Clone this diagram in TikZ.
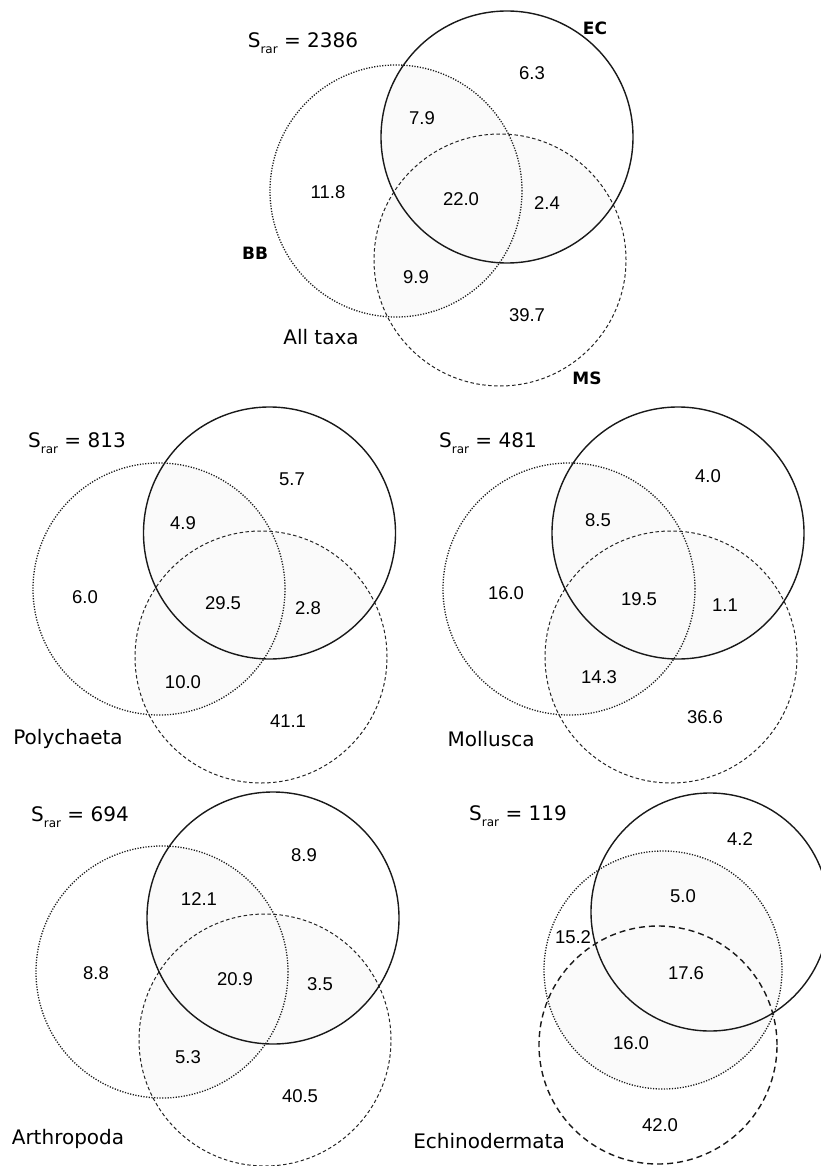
\documentclass[tikz,border=0pt]{standalone}
\usepackage{fontspec}
\setmainfont{DejaVu Sans}
\newfontfamily\numfamily{Liberation Sans}
\newfontfamily\lblfamily{DejaVu Sans}
\newcommand\srar[1]{S\raisebox{-0.28em}{\fontsize{12}{12}\selectfont rar} = #1}
\tikzset{
  ecline/.style={draw=black!90, line width=1.4pt},
  bbline/.style={draw=black!90, line width=1.3pt, dash pattern=on 1.2pt off 1.5pt},
  msline/.style={draw=black!85, line width=1pt, dash pattern=on 3.5pt off 2.5pt},
  msthick/.style={draw=black!90, line width=1.4pt, dash pattern=on 6pt off 4pt},
  shadefill/.style={fill=black!2},
  num/.style={font=\numfamily\fontsize{18.5}{20}\selectfont, inner sep=0pt},
  ttl/.style={font=\lblfamily\fontsize{20}{22}\selectfont, inner sep=0pt},
  setlbl/.style={font=\lblfamily\bfseries\fontsize{17}{19}\selectfont, inner sep=0pt},
}
% #1 prefix, #2 #3 EC, #4 #5 BB, #6 #7 MS, #8 radius, #9 MS style
\newcommand\vennset[9]{%
  \coordinate (#1ec) at (#2,#3);
  \coordinate (#1bb) at (#4,#5);
  \coordinate (#1ms) at (#6,#7);
  \begin{scope}
    \clip (#1ec) circle[radius=#8pt];
    \fill[shadefill] (#1bb) circle[radius=#8pt];
    \fill[shadefill] (#1ms) circle[radius=#8pt];
  \end{scope}
  \begin{scope}
    \clip (#1bb) circle[radius=#8pt];
    \fill[shadefill] (#1ms) circle[radius=#8pt];
  \end{scope}
  \draw[bbline] (#1bb) circle[radius=#8pt];
  \draw[#9] (#1ms) circle[radius=#8pt];
  \draw[ecline] (#1ec) circle[radius=#8pt];
}
\begin{document}
\begin{tikzpicture}[x=1pt,y=-1pt]
\useasboundingbox (0,0) rectangle (821,1166);
\clip (0,0) rectangle (821,1166);

% All taxa
\vennset{a}{507}{137}{396}{191}{500}{260}{126}{msline}
\node[ttl] (asr) at (303,43) {\srar{2386}};
\node[setlbl] (aEC) at (595,28) {EC};
\node[setlbl] (aBB) at (255,253) {BB};
\node[setlbl] (aMS) at (587,378) {MS};
\node[num] (a1) at (532,73) {6.3};
\node[num] (a2) at (422,118) {7.9};
\node[num] (a3) at (328,192) {11.8};
\node[num] (a4) at (461,199) {22.0};
\node[num] (a5) at (547,203) {2.4};
\node[num] (a6) at (416,277) {9.9};
\node[num] (a7) at (527,315) {39.7};
\node[ttl] (at) at (321,337) {All taxa};

% Polychaeta
\vennset{p}{269.5}{533}{159}{589}{261}{657}{126}{msline}
\node[ttl] (psr) at (77,443) {\srar{813}};
\node[num] (p1) at (292,479) {5.7};
\node[num] (p2) at (183,523) {4.9};
\node[num] (p3) at (85,597) {6.0};
\node[num] (p4) at (223,603) {29.5};
\node[num] (p5) at (308,608) {2.8};
\node[num] (p6) at (183,682) {10.0};
\node[num] (p7) at (288,721) {41.1};
\node[ttl] (pt) at (68,739) {Polychaeta};

% Mollusca
\vennset{m}{678}{533}{569}{589}{671}{657}{126}{msline}
\node[ttl] (msr) at (488,443) {\srar{481}};
\node[num] (m1) at (708,476) {4.0};
\node[num] (m2) at (598,520) {8.5};
\node[num] (m3) at (506,593) {16.0};
\node[num] (m4) at (639,599) {19.5};
\node[num] (m5) at (725,605) {1.1};
\node[num] (m6) at (599,677) {14.3};
\node[num] (m7) at (705,717) {36.6};
\node[ttl] (mt) at (491,739) {Mollusca};

% Arthropoda
\vennset{r}{273}{918}{162}{972}{265}{1040}{126}{msline}
\node[ttl] (rsr) at (80,817) {\srar{694}};
\node[num] (r1) at (304,855) {8.9};
\node[num] (r2) at (199,899) {12.1};
\node[num] (r3) at (96,973) {8.8};
\node[num] (r4) at (235,979) {20.9};
\node[num] (r5) at (320,984) {3.5};
\node[num] (r6) at (188,1057) {5.3};
\node[num] (r7) at (300,1096) {40.5};
\node[ttl] (rt) at (68,1139) {Arthropoda};

% Echinodermata
\vennset{e}{710}{912}{663}{970}{658}{1045}{119}{msthick}
\node[ttl] (esr) at (518,816) {\srar{119}};
\node[num] (e1) at (740,839) {4.2};
\node[num] (e2) at (683,896) {5.0};
\node[num] (e3) at (573,937) {15.2};
\node[num] (e4) at (686,973) {17.6};
\node[num] (e5) at (631,1043) {16.0};
\node[num] (e6) at (660,1125) {42.0};
\node[ttl] (et) at (489,1141) {Echinodermata};
\end{tikzpicture}
\end{document}
